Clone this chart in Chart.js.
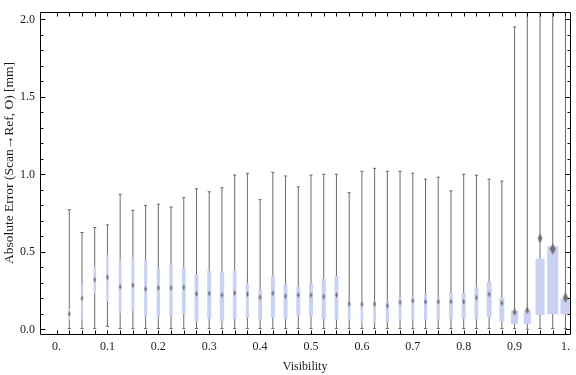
<!DOCTYPE html>
<html><head><meta charset="utf-8">
<script src="https://cdn.jsdelivr.net/npm/chart.js@4"></script>
<style>html,body{margin:0;padding:0;background:#fff;}canvas{display:block;}</style>
</head><body>
<canvas id="c" width="576" height="375"></canvas>
<script>
// ---------------- data ----------------
const visibility = [0.025,0.05,0.075,0.1,0.125,0.15,0.175,0.2,0.225,0.25,
  0.275,0.3,0.325,0.35,0.375,0.4,0.425,0.45,0.475,0.5,
  0.525,0.55,0.575,0.6,0.625,0.65,0.675,0.7,0.725,0.75,
  0.775,0.8,0.825,0.85,0.875,0.9,0.925,0.95,0.975,1.0];
const whiskerLow = [0.005,0.005,0.005,0.02,0.005,0.005,0.005,0.005,0.005,0.005,
  0.005,0.005,0.005,0.005,0.005,0.005,0.005,0.005,0.005,0.005,
  0.005,0.005,0.005,0.005,0.005,0.005,0.005,0.005,0.005,0.005,
  0.005,0.005,0.005,0.005,0.005,0.005,0.0,0.005,0.005,0.005];
const q1 = [0.062,0.064,0.23,0.18,0.105,0.12,0.079,0.079,0.09,0.098,
  0.053,0.072,0.054,0.067,0.073,0.06,0.077,0.065,0.09,0.084,
  0.067,0.062,0.06,0.042,0.042,0.048,0.057,0.063,0.055,0.06,
  0.067,0.067,0.067,0.079,0.05,0.035,0.034,0.092,0.098,0.098];
const median = [0.10,0.20,0.321,0.336,0.275,0.285,0.26,0.268,0.268,0.271,
  0.229,0.232,0.222,0.235,0.227,0.208,0.233,0.214,0.222,0.221,
  0.212,0.222,0.164,0.162,0.164,0.153,0.174,0.185,0.177,0.178,
  0.178,0.178,0.205,0.227,0.170,0.111,0.123,0.588,0.519,0.205];
const q3 = [0.133,0.292,0.405,0.48,0.449,0.466,0.451,0.392,0.418,0.399,
  0.354,0.38,0.373,0.38,0.298,0.252,0.342,0.29,0.273,0.297,
  0.328,0.346,0.178,0.178,0.185,0.178,0.21,0.216,0.233,0.202,
  0.234,0.234,0.273,0.305,0.203,0.122,0.122,0.455,0.537,0.199];
const whiskerHigh = [0.772,0.625,0.657,0.674,0.871,0.768,0.80,0.808,0.789,0.85,
  0.907,0.888,0.914,0.996,1.007,0.837,1.014,0.99,0.92,0.996,
  1.001,1.001,0.882,1.02,1.039,1.02,1.02,1.008,0.97,0.982,
  0.894,1.001,0.995,0.97,0.957,1.952,2.4,2.6,2.8,2.5];
// relative group size (drives box width)
const groupWeight = [0.15,0.15,0.21,0.21,0.25,0.27,0.27,0.3,0.3,0.34,
  0.36,0.36,0.39,0.34,0.27,0.34,0.36,0.36,0.36,0.36,
  0.39,0.35,0.25,0.25,0.25,0.3,0.27,0.27,0.27,0.3,
  0.34,0.36,0.36,0.45,0.45,0.64,0.64,0.82,1.0,0.91];
const xTickLabels = ['0.','0.1','0.2','0.3','0.4','0.5','0.6','0.7','0.8','0.9','1.'];
const yTickLabels = ['0.0','0.5','1.0','1.5','2.0'];
const xTitle = 'Visibility';
const yTitle = '      Absolute Error (Scan\u2192Ref, O) [mm]';

// ---------------- styling ----------------
const MAX_BOX = 11;
const BOX_COLOR = '#c9d1f5';
const WHISKER_COLOR = '#6c6c6c';
const FONT = "'Liberation Serif','Times New Roman','DejaVu Serif',serif";
const boxW = groupWeight.map(w => Math.max(1.5, w * MAX_BOX));

function diamond(bw) {
  const w = Math.max(2.6, 0.55 * bw), h = Math.max(6, bw * 1.05);
  const c = document.createElement('canvas');
  c.width = Math.ceil(w) + 2; c.height = Math.ceil(h) + 2;
  const g = c.getContext('2d');
  const cx = c.width / 2, cy = c.height / 2;
  g.fillStyle = 'rgba(95,95,95,0.85)';
  g.beginPath();
  g.moveTo(cx, cy - h / 2); g.lineTo(cx + w / 2, cy); g.lineTo(cx, cy + h / 2); g.lineTo(cx - w / 2, cy);
  g.closePath(); g.fill();
  return c;
}
const markers = boxW.map(diamond);

const frameTicks = {
  id: 'frameTicks',
  afterDatasetsDraw(chart) {
    const {ctx, chartArea: a, scales: {x, y}} = chart;
    const L = Math.round(a.left) + 0.5, R = Math.round(a.right) + 0.5;
    const T = Math.round(a.top) + 0.5, B = Math.round(a.bottom) + 0.5;
    ctx.save();
    ctx.strokeStyle = '#000'; ctx.lineWidth = 1;
    ctx.beginPath();
    ctx.rect(L, T, R - L, B - T);
    x.ticks.forEach(t => {
      const px = Math.round(x.getPixelForValue(t.value)) + 0.5;
      ctx.moveTo(px, B); ctx.lineTo(px, B - 4);
      ctx.moveTo(px, T); ctx.lineTo(px, T + 4);
    });
    y.ticks.forEach(t => {
      const py = Math.round(y.getPixelForValue(t.value)) + 0.5;
      const major = Math.abs(t.value * 2 - Math.round(t.value * 2)) < 1e-6;
      const len = major ? 5 : 3;
      ctx.moveTo(L, py); ctx.lineTo(L + len, py);
      ctx.moveTo(R, py); ctx.lineTo(R - len, py);
    });
    ctx.stroke();
    ctx.restore();
  }
};

const barCommon = {type: 'bar', grouped: false, borderWidth: 0, inflateAmount: 0, clip: 0};

const datasets = [
  Object.assign({}, barCommon, {
    data: visibility.map((v, i) => ({x: v, y: [whiskerLow[i], whiskerHigh[i]]})),
    backgroundColor: WHISKER_COLOR, barThickness: 1, order: 4
  }),
  {type: 'scatter', order: 3, clip: 0,
    data: visibility.map((v, i) => ({x: v, y: whiskerHigh[i]})).concat(
          visibility.map((v, i) => ({x: v, y: whiskerLow[i]}))),
    pointStyle: 'line', pointRadius: 1.6, borderColor: WHISKER_COLOR, borderWidth: 1}
];
// one box dataset per group so every box can take its own width
visibility.forEach((v, i) => {
  datasets.push(Object.assign({}, barCommon, {
    data: [{x: v, y: [q1[i], q3[i]]}],
    backgroundColor: BOX_COLOR, barThickness: boxW[i], order: 2
  }));
});
datasets.push({type: 'scatter', order: 1, clip: 0,
  data: visibility.map((v, i) => ({x: v, y: median[i]})),
  pointStyle: ctx => markers[ctx.dataIndex], pointRadius: 3});

new Chart(document.getElementById('c'), {
  type: 'bar',
  data: {datasets},
  options: {
    responsive: false, animation: false, events: [],
    layout: {padding: {top: 4, right: 1, left: 0, bottom: 0}},
    plugins: {legend: {display: false}, tooltip: {enabled: false}},
    scales: {
      x: {
        type: 'linear', offset: false, min: -0.0325, max: 1.0093,
        grid: {display: false, drawTicks: false}, border: {display: false},
        afterBuildTicks: s => { s.ticks = s.ticks.filter(t => t.value > -1e-9 && t.value < 1 + 1e-9); },
        afterFit: s => { s.height = 41; },
        ticks: {
          stepSize: 0.025, autoSkip: false, maxRotation: 0, includeBounds: false, padding: 6,
          color: '#1a1a1a', font: {family: FONT, size: 12},
          callback: v => {
            const k = Math.round(v * 10);
            return Math.abs(v * 10 - k) < 1e-6 ? xTickLabels[k] : '';
          }
        },
        title: {display: true, text: xTitle, color: '#1a1a1a', font: {family: FONT, size: 12}, padding: {top: 0, bottom: 1}}
      },
      y: {
        type: 'linear', min: -0.03, max: 2.047,
        grid: {display: false, drawTicks: false}, border: {display: false},
        afterFit: s => { s.width = 40; },
        ticks: {
          stepSize: 0.1, autoSkip: false, includeBounds: false, padding: 5,
          color: '#1a1a1a', font: {family: FONT, size: 12},
          callback: v => {
            const k = Math.round(v * 2);
            return Math.abs(v * 2 - k) < 1e-6 ? yTickLabels[k] : '';
          }
        },
        title: {display: true, text: yTitle, color: '#1a1a1a', font: {family: FONT, size: 13.5}, padding: {top: 1.5, bottom: 0}}
      }
    }
  },
  plugins: [frameTicks]
});
</script>
</body></html>
